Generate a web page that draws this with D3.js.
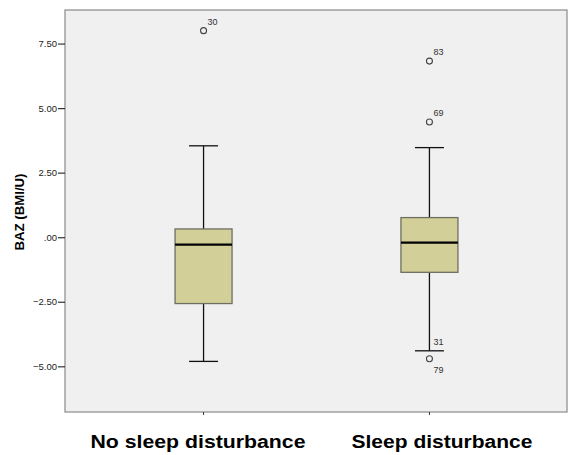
<!DOCTYPE html>
<html>
<head>
<meta charset="utf-8">
<script src="https://cdn.jsdelivr.net/npm/d3@7"></script>
<style>
  body { margin: 0; background: #fff; }
  text { font-family: "Liberation Sans", Arial, sans-serif; }
</style>
</head>
<body>
<svg id="chart" width="568" height="455"></svg>
<script>
// group names and box statistics
var groups = ["No sleep disturbance", "Sleep disturbance"];
var whiskerLow = [-4.81, -4.40];
var q1 = [-2.57, -1.36];
var median = [-0.29, -0.21];
var q3 = [0.32, 0.76];
var whiskerHigh = [3.54, 3.47];
var outliers = [
  {group: 0, id: 30, value: 8.00},
  {group: 1, id: 83, value: 6.82},
  {group: 1, id: 69, value: 4.46},
  {group: 1, id: 31, value: -4.40},
  {group: 1, id: 79, value: -4.71}
];
var yTicks = [-5, -2.5, 0, 2.5, 5, 7.5];

(function () {
  var svg = d3.select("#chart");
  var mLeft = 65, mRight = 567, mTop = 10, mBottom = 412;

  var y = d3.scaleLinear().domain([-6.77, 8.80]).range([mBottom, mTop]);
  var x = d3.scalePoint().domain([0, 1]).range([mLeft + 1, mRight]).padding(0.609);
  var boxW = 57, capW = 29;

  // plot background
  svg.append("rect")
    .attr("x", mLeft).attr("y", mTop)
    .attr("width", mRight - mLeft).attr("height", mBottom - mTop)
    .attr("fill", "#f0f0f0")
    .attr("stroke", "#8a8a8a")
    .attr("stroke-width", 1.2);

  var fmt = function (d) {
    var s = d3.format(".2f")(d);
    return s === "0.00" ? ".00" : s;
  };

  var yAxis = svg.append("g")
    .attr("transform", "translate(" + mLeft + ",0)")
    .call(d3.axisLeft(y).tickValues(yTicks).tickFormat(fmt).tickSize(7).tickSizeOuter(0).tickPadding(1));
  yAxis.select(".domain").remove();
  yAxis.selectAll("line").attr("stroke", "#333").attr("stroke-width", 1.2);
  yAxis.selectAll("text").attr("font-size", 9.5).attr("fill", "#222")
    .style("font-family", "'Liberation Sans', Arial, sans-serif");

  var cx = function (i) { return x(i); };

  // x ticks under the frame
  svg.selectAll(".xtick").data(groups).enter().append("line")
    .attr("x1", function (d, i) { return cx(i); })
    .attr("x2", function (d, i) { return cx(i); })
    .attr("y1", mBottom).attr("y2", mBottom + 3)
    .attr("stroke", "#333");

  var box = svg.selectAll(".box").data(groups).enter().append("g");

  box.append("line")
    .attr("x1", function (d, i) { return cx(i); })
    .attr("x2", function (d, i) { return cx(i); })
    .attr("y1", function (d, i) { return y(whiskerHigh[i]); })
    .attr("y2", function (d, i) { return y(whiskerLow[i]); })
    .attr("stroke", "#111").attr("stroke-width", 1.3);

  [whiskerHigh, whiskerLow].forEach(function (arr) {
    box.append("line")
      .attr("x1", function (d, i) { return cx(i) - capW / 2; })
      .attr("x2", function (d, i) { return cx(i) + capW / 2; })
      .attr("y1", function (d, i) { return y(arr[i]); })
      .attr("y2", function (d, i) { return y(arr[i]); })
      .attr("stroke", "#111").attr("stroke-width", 1.3);
  });

  box.append("rect")
    .attr("x", function (d, i) { return cx(i) - boxW / 2; })
    .attr("y", function (d, i) { return y(q3[i]); })
    .attr("width", boxW)
    .attr("height", function (d, i) { return y(q1[i]) - y(q3[i]); })
    .attr("fill", "#d3cf98")
    .attr("stroke", "#6e6e62")
    .attr("stroke-width", 1.3);

  box.append("line")
    .attr("x1", function (d, i) { return cx(i) - boxW / 2; })
    .attr("x2", function (d, i) { return cx(i) + boxW / 2; })
    .attr("y1", function (d, i) { return y(median[i]); })
    .attr("y2", function (d, i) { return y(median[i]); })
    .attr("stroke", "#000").attr("stroke-width", 2.2);

  // outliers (the one sitting on the whisker cap only shows its label)
  var out = svg.selectAll(".out").data(outliers).enter().append("g");
  out.filter(function (d) { return Math.abs(d.value - whiskerLow[d.group]) > 0.05; })
    .append("circle")
    .attr("cx", function (d) { return cx(d.group); })
    .attr("cy", function (d) { return y(d.value); })
    .attr("r", 3)
    .attr("fill", "none")
    .attr("stroke", "#444")
    .attr("stroke-width", 1.1);

  out.append("text")
    .attr("x", function (d) { return cx(d.group) + 4; })
    .attr("y", function (d) { return y(d.value) + (d.id === 79 ? 14 : -6); })
    .attr("font-size", 9)
    .attr("fill", "#333")
    .text(function (d) { return d.id; });

  // y title
  svg.append("text")
    .attr("transform", "translate(24,212) rotate(-90)")
    .attr("text-anchor", "middle")
    .attr("font-size", 12)
    .attr("font-weight", "bold")
    .attr("textLength", 77)
    .attr("lengthAdjust", "spacingAndGlyphs")
    .text("BAZ (BMI/U)");

  // category labels
  var labelX = [198, 442], labelW = [215, 181];
  svg.selectAll(".cat").data(groups).enter().append("text")
    .attr("x", function (d, i) { return labelX[i]; })
    .attr("y", 448)
    .attr("text-anchor", "middle")
    .attr("font-size", 18)
    .attr("font-weight", "bold")
    .attr("textLength", function (d, i) { return labelW[i]; })
    .attr("lengthAdjust", "spacingAndGlyphs")
    .text(function (d) { return d; });
})();
</script>
</body>
</html>
